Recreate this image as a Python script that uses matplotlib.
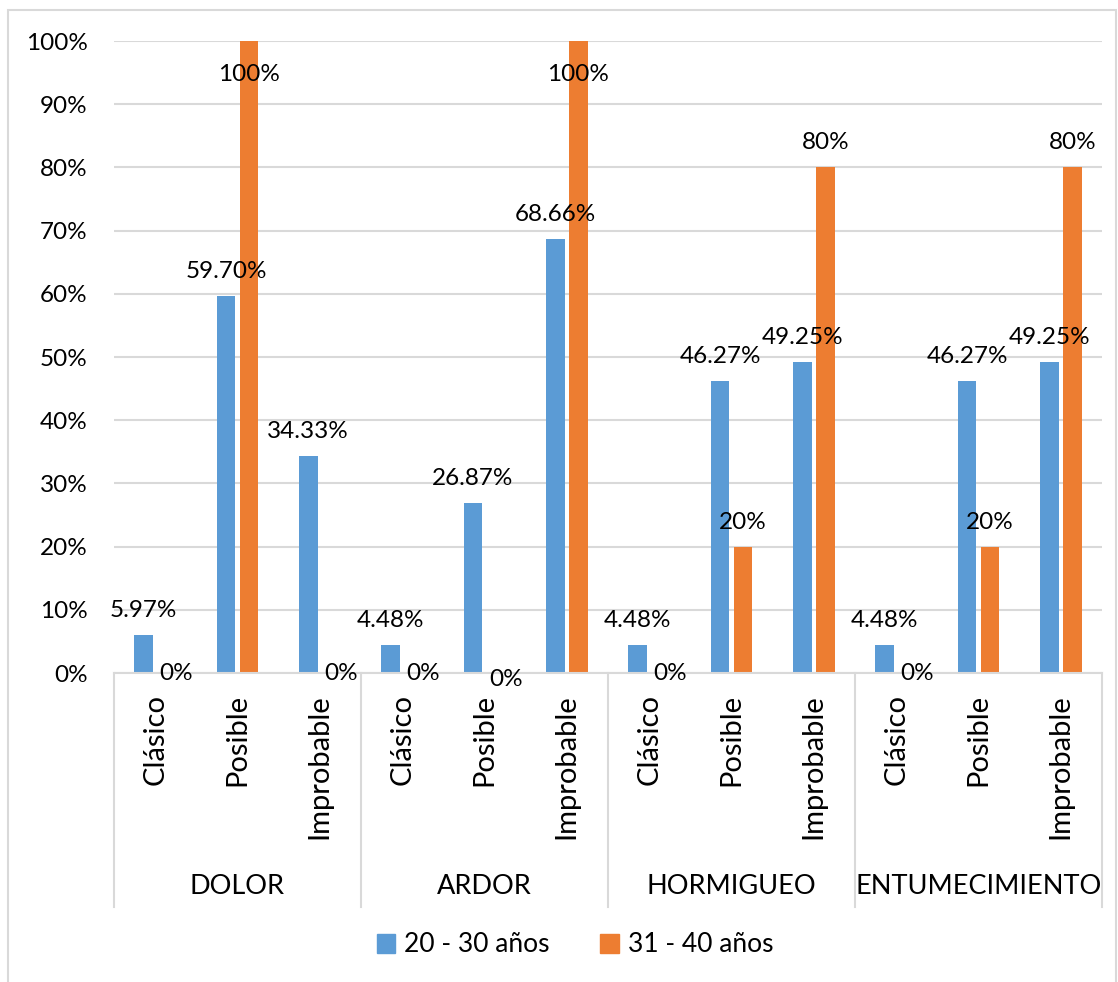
import matplotlib.pyplot as plt
from matplotlib.patches import Rectangle

plt.rcParams['font.family'] = ['Lato', 'DejaVu Sans']

groups = ['DOLOR', 'ARDOR', 'HORMIGUEO', 'ENTUMECIMIENTO']
categories = ['Clásico', 'Posible', 'Improbable']
series_names = ['20 - 30 años', '31 - 40 años']
age_20_30 = [5.97, 59.70, 34.33, 4.48, 26.87, 68.66, 4.48, 46.27, 49.25, 4.48, 46.27, 49.25]
age_31_40 = [0, 100, 0, 0, 0, 100, 0, 20, 80, 0, 20, 80]
labels_20_30 = ['5.97%', '59.70%', '34.33%', '4.48%', '26.87%', '68.66%',
                '4.48%', '46.27%', '49.25%', '4.48%', '46.27%', '49.25%']
labels_31_40 = ['0%', '100%', '0%', '0%', '0%', '100%', '0%', '20%', '80%', '0%', '20%', '80%']

BLUE = '#5B9BD5'
ORANGE = '#ED7D31'
GRID = '#D9D9D9'
FS = 17.5       # ticks and data labels
FS_CAT = 21     # rotated category labels
FS_GRP = 19.5   # group labels
FS_LEG = 19

fig = plt.figure(figsize=(11.18, 9.82), dpi=100)
ax = fig.add_axes([114 / 1118, 1 - 673 / 982, (1102 - 114) / 1118, (673 - 41) / 982])

n = len(age_20_30)
x = [i + 0.5 for i in range(n)]
w = 0.225
off = 0.14
xb = [v - off for v in x]
xo = [v + off for v in x]
vb = [v / 100 for v in age_20_30]
vo = [v / 100 for v in age_31_40]

ax.bar(xb, vb, w, color=BLUE, zorder=2)
ax.bar(xo, vo, w, color=ORANGE, zorder=2)

ax.set_xlim(0, n)
ax.set_ylim(0, 1)
ax.set_yticks([i / 10 for i in range(11)])
ax.set_yticklabels([f'{i * 10}%' for i in range(11)], fontsize=FS)
ax.tick_params(axis='y', length=0, pad=19)
ax.set_xticks([])
ax.grid(axis='y', color=GRID, linewidth=1.5, zorder=0)
for s in ['top', 'right', 'left']:
    ax.spines[s].set_visible(False)
ax.spines['bottom'].set_color(GRID)
ax.spines['bottom'].set_linewidth(1.5)

# data labels
for xi, v, lab in zip(xb, vb, labels_20_30):
    ax.annotate(lab, (xi, v), xytext=(0, 13), textcoords='offset points',
                ha='center', va='baseline', fontsize=FS, zorder=3)
for i, (xi, v, lab) in enumerate(zip(xo, vo, labels_31_40)):
    if v >= 1:
        ax.annotate(lab, (xi, v), xytext=(0, -29), textcoords='offset points',
                    ha='center', va='baseline', fontsize=FS, zorder=3)
    elif v == 0:
        dy = -9 if i == 4 else -5
        ax.annotate(lab, (xi, v), xytext=(7, dy), textcoords='offset points',
                    ha='center', va='baseline', fontsize=FS, zorder=3)
    else:
        ax.annotate(lab, (xi, v), xytext=(0, 13), textcoords='offset points',
                    ha='center', va='baseline', fontsize=FS, zorder=3)

# multi-level category axis
tr = ax.get_xaxis_transform()
ax_h = 673 - 41
for i, xi in enumerate(x):
    ax.text(xi, -21 / ax_h, categories[i % 3], rotation=90, ha='center', va='top',
            fontsize=FS_CAT, transform=tr)
for g, name in enumerate(groups):
    ax.text(g * 3 + 1.5, -214 / ax_h, name, ha='center', va='center',
            fontsize=FS_GRP, transform=tr)
for g in range(len(groups) + 1):
    ax.plot([g * 3, g * 3], [0, -234 / ax_h], color=GRID, linewidth=1.5,
            transform=tr, clip_on=False)

# legend
handles = [Rectangle((0, 0), 1, 1, color=BLUE), Rectangle((0, 0), 1, 1, color=ORANGE)]
fig.legend(handles, series_names, loc='center', bbox_to_anchor=(575 / 1118, 1 - 945 / 982),
           ncol=2, frameon=False, fontsize=FS_LEG, handlelength=0.7, handleheight=0.7,
           handletextpad=0.35, columnspacing=1.9)

# chart border
fig.patches.append(Rectangle((8 / 1118, -0.01), (1116 - 8) / 1118, 1 - 10 / 982 + 0.01,
                             transform=fig.transFigure, fill=False,
                             edgecolor=GRID, linewidth=1.5))

fig.savefig('out.png', dpi=100)
